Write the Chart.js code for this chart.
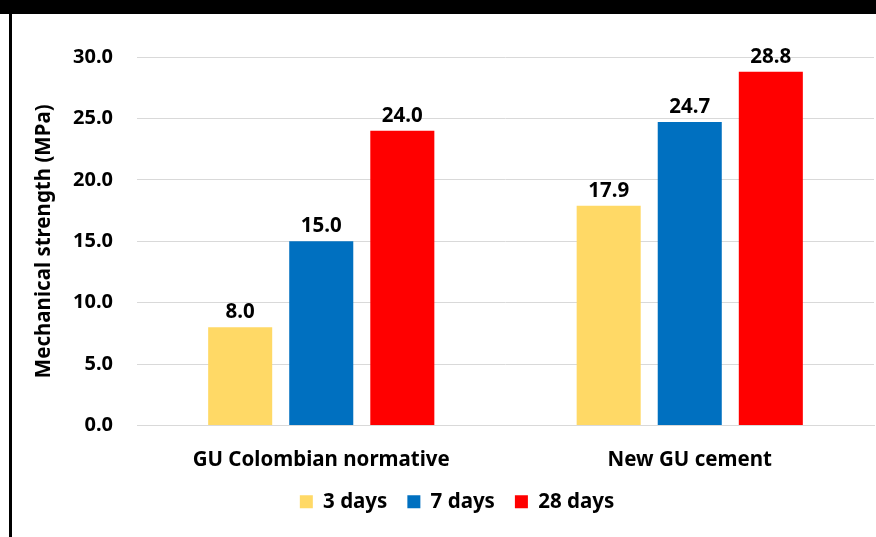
<!DOCTYPE html>
<html>
<head>
<meta charset="utf-8">
<script src="https://cdn.jsdelivr.net/npm/chart.js@4"></script>
<style>
  html, body { margin: 0; padding: 0; background: #fff; }
  #wrap { position: relative; width: 876px; height: 537px; overflow: hidden; }
  #topbar { position: absolute; left: 0; top: 0; width: 876px; height: 14px; background: #000; }
  #leftbar { position: absolute; left: 9px; top: 14px; width: 3px; height: 523px; background: #000; }
  canvas { position: absolute; left: 0; top: 0; }
</style>
</head>
<body>
<div id="wrap">
  <canvas id="chart" width="876" height="537"></canvas>
  <div id="topbar"></div>
  <div id="leftbar"></div>
</div>
<script>
// Compressive strength of the two cements at each curing age
const categories = ['GU Colombian normative', 'New GU cement'];
const seriesNames = ['3 days', '7 days', '28 days'];
const days3 = [8.0, 17.9];
const days7 = [15.0, 24.7];
const days28 = [24.0, 28.8];
const seriesColors = ['#FFD966', '#0070C0', '#FF0000'];
const yTicks = { min: 0, max: 30, step: 5 };

const FONT = '"Noto Sans", "Open Sans", sans-serif';
const TEXT = '#000000';

// Writes each bar's value above it
const valueLabels = {
  id: 'valueLabels',
  afterDatasetsDraw(chart) {
    const ctx = chart.ctx;
    ctx.save();
    ctx.font = 'bold 20.5px ' + FONT;
    ctx.fillStyle = TEXT;
    ctx.textAlign = 'center';
    ctx.textBaseline = 'alphabetic';
    chart.data.datasets.forEach((ds, i) => {
      chart.getDatasetMeta(i).data.forEach((bar, j) => {
        ctx.fillText(ds.data[j].toFixed(1), bar.x, bar.y - 9);
      });
    });
    ctx.restore();
  }
};

const seriesData = [days3, days7, days28];

new Chart(document.getElementById('chart'), {
  type: 'bar',
  data: {
    labels: categories,
    datasets: seriesNames.map((name, i) => ({
      label: name,
      data: seriesData[i],
      backgroundColor: seriesColors[i],
      borderWidth: 0,
      categoryPercentage: 0.66,
      barPercentage: 0.79
    }))
  },
  options: {
    responsive: false,
    animation: false,
    devicePixelRatio: 1,
    layout: { padding: { top: 57, right: 2, bottom: 15, left: 40 } },
    plugins: {
      tooltip: { enabled: false },
      legend: {
        position: 'bottom',
        labels: {
          color: TEXT,
          font: { family: FONT, size: 20.5, weight: 'bold' },
          boxWidth: 13,
          boxHeight: 13,
          padding: 20
        }
      }
    },
    scales: {
      x: {
        grid: { display: false, drawTicks: false },
        border: { display: true, color: '#d9d9d9', width: 1 },
        ticks: {
          color: TEXT,
          padding: 22,
          font: { family: FONT, size: 20.5, weight: 'bold' }
        },
        afterFit(scale) { scale.height = 46; }
      },
      y: {
        min: yTicks.min,
        max: yTicks.max,
        border: { display: false },
        grid: { color: '#d9d9d9', lineWidth: 1, drawTicks: false },
        ticks: {
          stepSize: yTicks.step,
          color: TEXT,
          padding: 24,
          font: { family: FONT, size: 20, weight: 'bold' },
          callback: v => v.toFixed(1)
        },
        title: {
          display: true,
          text: 'Mechanical strength (MPa)',
          color: TEXT,
          font: { family: FONT, size: 20.5, weight: 'bold', lineHeight: 0.2 },
          padding: { top: 2, bottom: 0 }
        },
        afterFit(scale) { scale.width = 97; }
      }
    }
  },
  plugins: [valueLabels]
});
</script>
</body>
</html>
